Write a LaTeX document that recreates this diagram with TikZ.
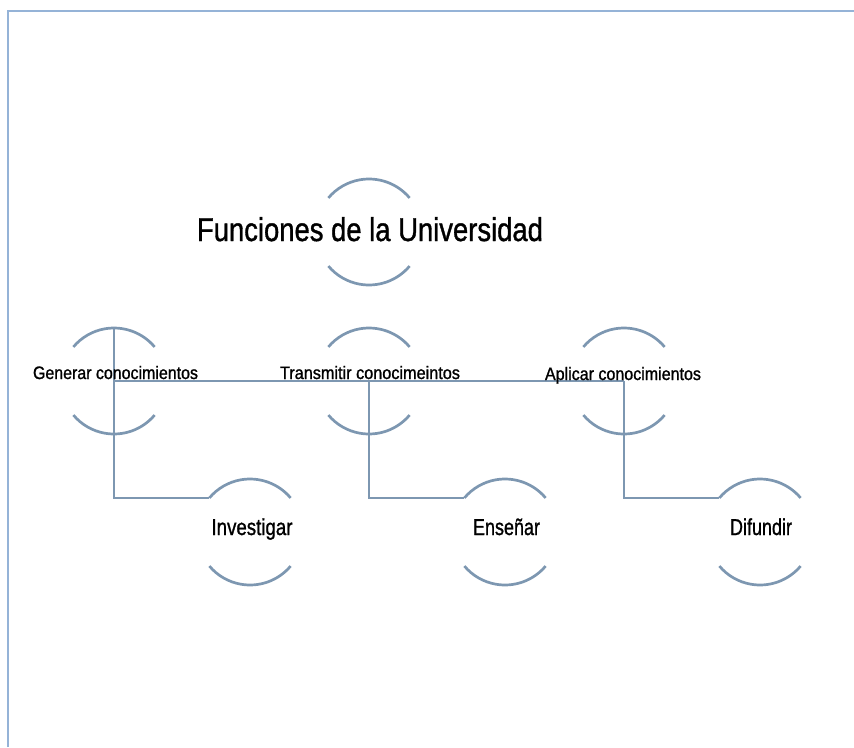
\documentclass[tikz,border=0pt]{standalone}
\usepackage{fontspec}
\setmainfont{Liberation Sans}[FakeBold=1.2]
\usepackage{graphicx}
\definecolor{framec}{RGB}{149,179,215}
\definecolor{rimc}{RGB}{125,151,177}
% squeeze a text to a given width, keeping its height
\newcommand\fitw[2]{\resizebox{#1}{\height}{#2}}
\begin{document}
\begin{tikzpicture}[x=1pt,y=1pt,
  bub/.style={circle, minimum size=106pt, inner sep=0pt, outer sep=0pt},
  rimline/.style={draw=rimc, line width=2.7pt},
  link/.style={draw=rimc, line width=2.7pt},
  lbl/.style={anchor=base, inner sep=0pt, font=\fontsize{18}{20}\selectfont},
  sub/.style={anchor=base, inner sep=0pt, font=\fontsize{23}{26}\selectfont},
  ttl/.style={anchor=base, inner sep=0pt, font=\fontsize{33}{36}\selectfont}]
\useasboundingbox (0,0) rectangle (854,-747);
% page frame
\draw[draw=framec, line width=2pt] (8,-747) -- (8,-11) -- (854,-11);

% circles (only their top and bottom arcs are drawn)
\node[bub] (u) at (369,-232) {};
\node[bub] (g) at (114,-381) {};
\node[bub] (t) at (369,-381) {};
\node[bub] (a) at (624,-381) {};
\node[bub] (i) at (250,-532) {};
\node[bub] (e) at (505,-532) {};
\node[bub] (d) at (760,-532) {};

% connectors
\draw[link] (g.center) -- (a.center);
\draw[link] (g.north) |- (i.140);
\draw[link] (t.center) |- (e.140);
\draw[link] (a.center) |- (d.140);

\foreach \n in {u,g,t,a,i,e,d} {
  \draw[rimline] (\n.40) arc(40:140:53);
  \draw[rimline] (\n.-40) arc(-40:-140:53);
}

% texts
\node[ttl] (u-t) at (370,-241) {\fitw{346pt}{Funciones de la Universidad}};
\node[lbl] (g-t) at (115.5,-379) {\fitw{165pt}{Generar conocimientos}};
\node[lbl] (t-t) at (370,-379) {\fitw{180pt}{Transmitir conocimeintos}};
\node[lbl] (a-t) at (623,-380) {\fitw{156pt}{Aplicar conocimientos}};
\node[sub] (i-t) at (252,-535) {\fitw{81pt}{Investigar}};
\node[sub] (e-t) at (506.5,-535) {\fitw{67pt}{Enseñar}};
\node[sub] (d-t) at (761,-535) {\fitw{62pt}{Difundir}};
\end{tikzpicture}
\end{document}
